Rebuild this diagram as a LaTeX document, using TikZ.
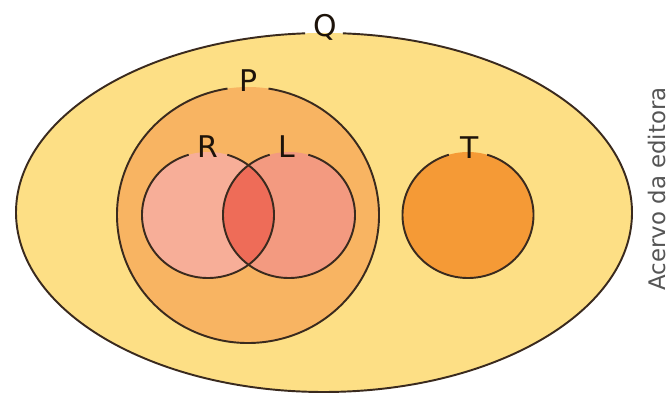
\documentclass[tikz,border=0pt]{standalone}
\usepackage{fontspec}
\setmainfont{DejaVu Sans}
\usetikzlibrary{calc}
\definecolor{qfill}{HTML}{FDDF85}
\definecolor{pfill}{HTML}{F8B462}
\definecolor{rfill}{HTML}{F7AE98}
\definecolor{lfill}{HTML}{F39A80}
\definecolor{ifill}{HTML}{EE6C58}
\definecolor{tfill}{HTML}{F59A36}
\definecolor{edge}{HTML}{3A2A1E}
\definecolor{credit}{HTML}{555555}
\begin{document}
\begin{tikzpicture}[x=0.02cm,y=0.02cm,
  border/.style={draw=edge,line width=1.1pt},
  setlabel/.style={font=\fontsize{17}{19}\selectfont,text=black!85!brown,inner sep=0pt}]
\useasboundingbox (0,0) rectangle (672,395);
\fill[white] (0,0) rectangle (672,395);
\coordinate (Qc) at (324,182.5);
\coordinate (Pc) at (248,180);
\coordinate (Rc) at (208,180);
\coordinate (Lc) at (289,180);
\coordinate (Tc) at (468,180);
% fills
\fill[qfill] (Qc) ellipse[x radius=308,y radius=179.5];
\fill[pfill] (Pc) ellipse[x radius=131,y radius=128];
\fill[rfill] (Rc) ellipse[x radius=66,y radius=63];
\fill[lfill] (Lc) ellipse[x radius=66,y radius=63];
\begin{scope}
  \clip (Rc) ellipse[x radius=66,y radius=63];
  \fill[ifill] (Lc) ellipse[x radius=66,y radius=63];
\end{scope}
\fill[tfill] (Tc) ellipse[x radius=65.5,y radius=63];
% outlines with gaps for labels
\draw[border] (Qc) ++(93.5:308 and 179.5) arc[start angle=93.5,end angle=446.5,x radius=308,y radius=179.5];
\draw[border] (Pc) ++(99:131 and 128) arc[start angle=99,end angle=441,x radius=131,y radius=128];
\draw[border] (Rc) ++(107:66 and 63) arc[start angle=107,end angle=433,x radius=66,y radius=63];
\draw[border] (Lc) ++(107:66 and 63) arc[start angle=107,end angle=433,x radius=66,y radius=63];
\draw[border] (Tc) ++(107:65.5 and 63) arc[start angle=107,end angle=433,x radius=65.5,y radius=63];
% labels
\node[setlabel] (Q) at (325,368) {Q};
\node[setlabel] (P) at (249,314) {P};
\node[setlabel] (R) at (208,248) {R};
\node[setlabel] (L) at (287,248) {L};
\node[setlabel] (T) at (470,247) {T};
\node[rotate=90,text=credit,font=\fontsize{13}{15}\selectfont,inner sep=0pt] (credit) at (657,206) {Acervo da editora};
\end{tikzpicture}
\end{document}
